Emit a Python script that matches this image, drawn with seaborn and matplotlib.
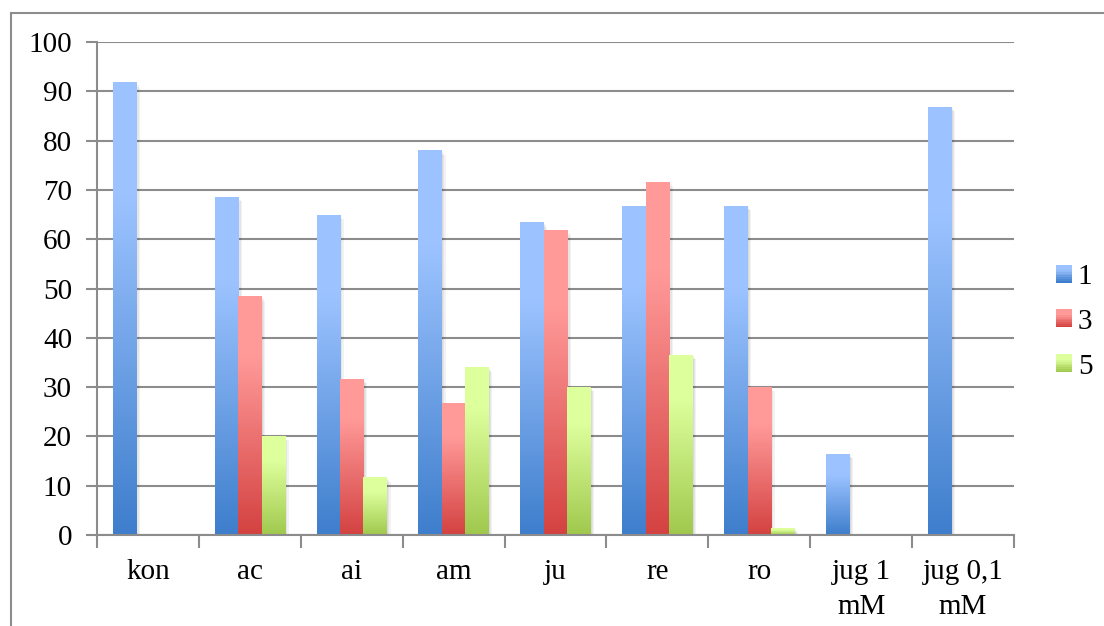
import numpy as np
import pandas as pd
import matplotlib
matplotlib.use('Agg')
import matplotlib.pyplot as plt
import seaborn as sns
from matplotlib.lines import Line2D
from matplotlib.patches import Rectangle
from matplotlib.legend_handler import HandlerBase

# data
categories = ['kon', 'ac', 'ai', 'am', 'ju', 're', 'ro', 'jug 1\nmM', 'jug 0,1\nmM']
series_names = ['1', '3', '5']
values_1 = [91.7, 68.4, 64.9, 77.9, 63.3, 66.7, 66.7, 16.4, 86.8]
values_3 = [np.nan, 48.3, 31.6, 26.6, 61.7, 71.6, 30.0, np.nan, np.nan]
values_5 = [np.nan, 20.0, 11.6, 33.9, 30.0, 36.5, 1.4, np.nan, np.nan]

# light (top) / dark (bottom) colours of the gradient fills
light_cols = ['#9cc3ff', '#ff9a99', '#ddff9c']
dark_cols = ['#3e7ecc', '#d34241', '#a0c84d']
mid_cols = ['#6fa0e6', '#ec6f6e', '#c0e07a']

grid_col = '#8c8c8c'
fs = 21


def gradient(light, dark, n=200):
    lt = np.array(matplotlib.colors.to_rgb(light))
    dk = np.array(matplotlib.colors.to_rgb(dark))
    t = np.linspace(0, 1, n)
    f = np.clip(t / 0.75, 0, 1)
    g = dk[None, :] + (lt - dk)[None, :] * f[:, None]
    return g[:, None, :]


class GradHandler(HandlerBase):
    def __init__(self, light, dark):
        super().__init__()
        self.light = light
        self.dark = dark

    def create_artists(self, legend, orig_handle, xdescent, ydescent,
                       width, height, fontsize, trans):
        arts = []
        n = 10
        g = gradient(self.light, self.dark, n)
        for i in range(n):
            r = Rectangle((-xdescent, -ydescent + height * i / n), width, height / n + 0.3,
                          facecolor=g[i, 0], edgecolor='none', transform=trans)
            arts.append(r)
        return arts


def main():
    df = pd.DataFrame({
        'cat': categories * 3,
        'series': [series_names[0]] * 9 + [series_names[1]] * 9 + [series_names[2]] * 9,
        'value': values_1 + values_3 + values_5,
    })

    plt.rcParams['font.family'] = ['Liberation Serif', 'DejaVu Serif']
    fig = plt.figure(figsize=(11.04, 6.26), dpi=100)
    ax = fig.add_axes([97 / 1104, 91 / 626, (1014 - 97) / 1104, (535 - 42) / 626])

    sns.barplot(data=df, x='cat', y='value', hue='series', order=categories,
                hue_order=series_names, width=0.69, gap=0, ax=ax,
                palette=mid_cols, legend=False, err_kws={'linewidth': 0})

    # swap flat fills for vertical gradients, add a soft shadow
    for k, cont in enumerate(ax.containers):
        grad = gradient(light_cols[k], dark_cols[k])
        for p in cont.patches:
            h = p.get_height()
            if not np.isfinite(h) or h <= 0:
                p.set_visible(False)
                continue
            x0, w = p.get_x(), p.get_width()
            for s in range(1, 4):
                ax.add_patch(Rectangle((x0 + 0.012 * s, -0.3), w, h + 0.3 - 0.25 * s,
                                       facecolor='#000000', alpha=0.05,
                                       edgecolor='none', zorder=2))
            ax.imshow(grad, extent=[x0, x0 + w, 0, h], origin='lower',
                      aspect='auto', zorder=3, interpolation='bilinear')
            p.set_visible(False)

    ax.set_xlim(-0.5, len(categories) - 0.5)
    ax.set_ylim(0, 100)
    ax.set_yticks(range(0, 101, 10))
    ax.set_xticks(range(len(categories)))
    ax.set_xticklabels(categories, fontsize=fs, linespacing=1.45)
    ax.set_xticks(np.arange(-0.5, len(categories), 1), minor=True)
    ax.tick_params(axis='x', which='major', length=0, pad=17)
    ax.tick_params(axis='x', which='minor', length=9, width=1.5, color=grid_col)
    ax.tick_params(axis='y', length=8, width=1.5, color=grid_col, labelsize=fs, pad=10)
    ax.set_xlabel('')
    ax.set_ylabel('')

    ax.yaxis.grid(True, color=grid_col, linewidth=1.5)
    ax.set_axisbelow(True)
    for side in ['top', 'right']:
        ax.spines[side].set_visible(False)
    for side in ['left', 'bottom']:
        ax.spines[side].set_color(grid_col)
        ax.spines[side].set_linewidth(1.5)
        ax.spines[side].set_zorder(4)

    handles = [Rectangle((0, 0), 1, 1) for _ in series_names]
    hmap = {h: GradHandler(light_cols[i], dark_cols[i]) for i, h in enumerate(handles)}
    fig.legend(handles, series_names, handler_map=hmap, loc='center left',
               bbox_to_anchor=(1056 / 1104, (626 - 322) / 626), frameon=False,
               fontsize=fs, handlelength=0.55, handleheight=0.55, handletextpad=0.2,
               labelspacing=0.65, borderpad=0, borderaxespad=0)

    # outer chart border (cut off on the right and bottom)
    fig.add_artist(Line2D([11 / 1104, 11 / 1104], [0, 1 - 13 / 626],
                          transform=fig.transFigure, color=grid_col, linewidth=1.5))
    fig.add_artist(Line2D([11 / 1104, 1], [1 - 13 / 626, 1 - 13 / 626],
                          transform=fig.transFigure, color=grid_col, linewidth=1.5))

    fig.savefig('out.png', dpi=100)


if __name__ == '__main__':
    main()
